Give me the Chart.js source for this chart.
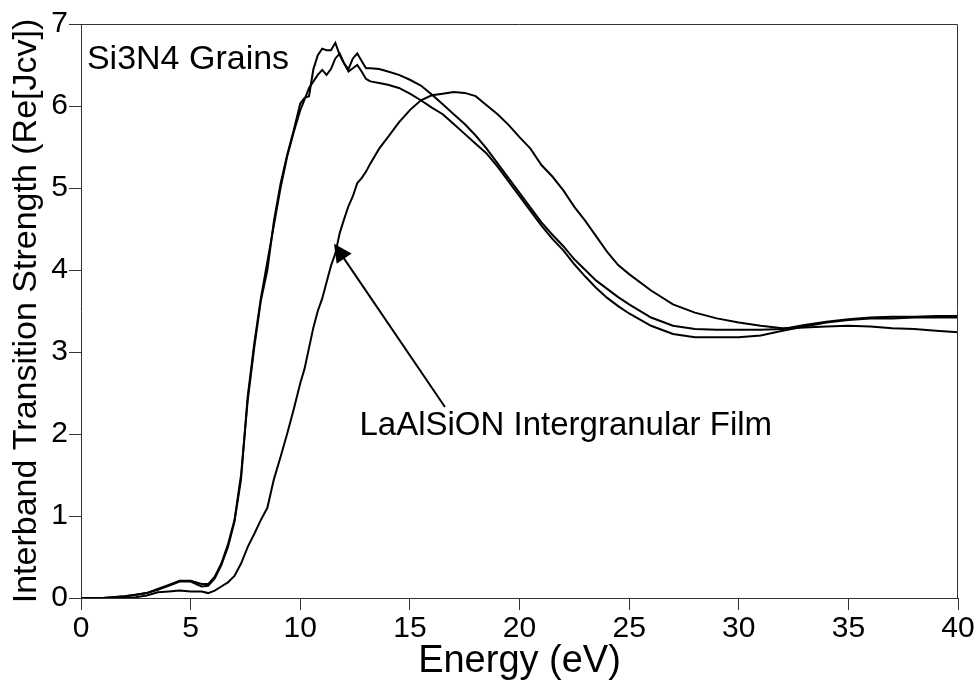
<!DOCTYPE html>
<html>
<head>
<meta charset="utf-8">
<script src="https://cdn.jsdelivr.net/npm/chart.js@4"></script>
<style>
body{margin:0;background:#fff;}
</style>
</head>
<body>
<canvas id="chartJcv" width="979" height="681"></canvas>
<script>
var energia=[0,1,2,2.5,3,3.5,4,4.5,5,5.5,5.8,6.1,6.4,6.7,7,7.3,7.6,7.9,8.2,8.5,
	8.8,9.1,9.4,9.7,10,10.2,10.4,10.6,10.8,11,11.2,11.4,11.6,11.8,12,12.2,12.4,12.6,12.8,13,
	13.2,13.6,14,14.5,15,15.5,16,16.5,17,17.5,18,18.5,19,19.5,20,20.5,21,21.5,22,22.5,
	23,23.5,24,24.5,25,26,27,28,29,30,31,32,33,34,35,36,37,38,39,40];
var granosA=[0,0,0.02,0.04,0.06,0.11,0.16,0.21,0.21,0.17,
	0.17,0.26,0.42,0.65,0.95,1.5,2.4,3.05,3.62,4.0,
	4.6,5.05,5.4,5.7,6.03,6.1,6.12,6.45,6.62,6.70,
	6.68,6.68,6.77,6.62,6.52,6.45,6.58,6.64,6.55,6.46,
	6.46,6.45,6.42,6.38,6.32,6.25,6.14,6.02,5.9,5.78,
	5.64,5.48,5.30,5.12,4.94,4.76,4.58,4.43,4.29,4.13,
	4.0,3.87,3.77,3.67,3.58,3.42,3.32,3.28,3.27,3.27,
	3.27,3.28,3.33,3.37,3.40,3.42,3.43,3.43,3.44,3.44];
var granosB=[0,0,0.02,0.04,0.06,0.10,0.15,0.20,0.20,0.14,
	0.15,0.24,0.40,0.62,0.93,1.45,2.45,3.1,3.65,4.1,
	4.55,5.0,5.38,5.68,5.95,6.08,6.22,6.3,6.38,6.44,
	6.38,6.45,6.58,6.64,6.52,6.42,6.46,6.50,6.42,6.33,
	6.30,6.28,6.26,6.22,6.15,6.07,5.98,5.9,5.78,5.66,
	5.54,5.42,5.26,5.08,4.90,4.72,4.54,4.38,4.24,4.07,
	3.92,3.78,3.66,3.56,3.47,3.32,3.22,3.18,3.18,3.18,
	3.20,3.26,3.31,3.36,3.39,3.41,3.41,3.42,3.42,3.42];
var pelicula=[0,0,0,0.01,0.03,0.07,0.08,0.09,0.08,0.08,
	0.06,0.09,0.14,0.19,0.27,0.42,0.62,0.78,0.95,1.1,
	1.45,1.72,2.0,2.3,2.62,2.8,3.05,3.3,3.5,3.65,
	3.85,4.05,4.2,4.45,4.62,4.78,4.9,5.06,5.12,5.2,
	5.3,5.48,5.62,5.8,5.95,6.07,6.13,6.15,6.17,6.16,
	6.12,6.01,5.9,5.77,5.62,5.48,5.28,5.14,4.97,4.77,
	4.6,4.41,4.22,4.06,3.95,3.75,3.58,3.48,3.41,3.36,
	3.32,3.29,3.30,3.31,3.32,3.31,3.29,3.28,3.26,3.24];

var etiquetaGranos="Si3N4 Grains";
var etiquetaPelicula="LaAlSiON Intergranular Film";
var fuente="'Liberation Sans', Arial, sans-serif";

function puntos(ys){
	var res=[];
	for(var i=0;i<energia.length;i++) res.push({x:energia[i],y:ys[i]});
	return res;
}

// marco de arriba/derecha y las notas con flecha
var notas={
	id:'notas',
	afterDatasetsDraw:function(chart){
		var ctx=chart.ctx, a=chart.chartArea, sx=chart.scales.x, sy=chart.scales.y;
		ctx.save();
		ctx.strokeStyle='#333';
		ctx.lineWidth=1;
		ctx.beginPath();
		ctx.moveTo(a.left,a.top+0.5);
		ctx.lineTo(a.right-0.5,a.top+0.5);
		ctx.lineTo(a.right-0.5,a.bottom);
		ctx.stroke();

		ctx.fillStyle='#000';
		ctx.font="34px "+fuente;
		ctx.textBaseline='alphabetic';
		ctx.fillText(etiquetaGranos,sx.getPixelForValue(0.27),sy.getPixelForValue(6.45));
		ctx.font="33px "+fuente;
		ctx.fillText(etiquetaPelicula,sx.getPixelForValue(12.7),sy.getPixelForValue(1.99));

		var x0=sx.getPixelForValue(16.6), y0=sy.getPixelForValue(2.33);
		var x1=sx.getPixelForValue(11.54), y1=sy.getPixelForValue(4.32);
		var ang=Math.atan2(y1-y0,x1-x0);
		ctx.strokeStyle='#000';
		ctx.lineWidth=2;
		ctx.beginPath();
		ctx.moveTo(x0,y0);
		ctx.lineTo(x1-14*Math.cos(ang),y1-14*Math.sin(ang));
		ctx.stroke();
		ctx.beginPath();
		ctx.moveTo(x1,y1);
		ctx.lineTo(x1-18*Math.cos(ang)+9*Math.sin(ang),y1-18*Math.sin(ang)-9*Math.cos(ang));
		ctx.lineTo(x1-18*Math.cos(ang)-9*Math.sin(ang),y1-18*Math.sin(ang)+9*Math.cos(ang));
		ctx.closePath();
		ctx.fill();
		ctx.restore();
	}
};

function serie(ys){
	return {data:puntos(ys),borderColor:'#000',borderWidth:2,pointRadius:0,fill:false,tension:0};
}

var chartJcv=new Chart(document.getElementById("chartJcv"),{
	type:'line',
	data:{datasets:[serie(granosA),serie(granosB),serie(pelicula)]},
	options:{
		responsive:false,
		animation:false,
		devicePixelRatio:1,
		layout:{padding:{top:24,right:21,left:0,bottom:0}},
		plugins:{legend:{display:false},tooltip:{enabled:false}},
		scales:{
			x:{
				type:'linear',min:0,max:40,
				ticks:{stepSize:5,color:'#000',font:{family:fuente,size:30},padding:1,maxRotation:0},
				grid:{drawOnChartArea:false,tickLength:12,color:'#333'},
				border:{color:'#333',width:1},
				title:{display:true,text:'Energy (eV)',color:'#000',font:{family:fuente,size:38,lineHeight:1},padding:{top:0,bottom:0}},
				afterFit:function(s){s.height=83;}
			},
			y:{
				min:0,max:7,
				ticks:{stepSize:1,color:'#000',font:{family:fuente,size:30},padding:1},
				grid:{drawOnChartArea:false,tickLength:12,color:'#333'},
				border:{color:'#333',width:1},
				title:{display:true,text:'Interband Transition Strength (Re[Jcv])',color:'#000',font:{family:fuente,size:34,lineHeight:1},padding:{top:10,bottom:0}},
				afterFit:function(s){s.width=81;}
			}
		}
	},
	plugins:[notas]
});
</script>
</body>
</html>
